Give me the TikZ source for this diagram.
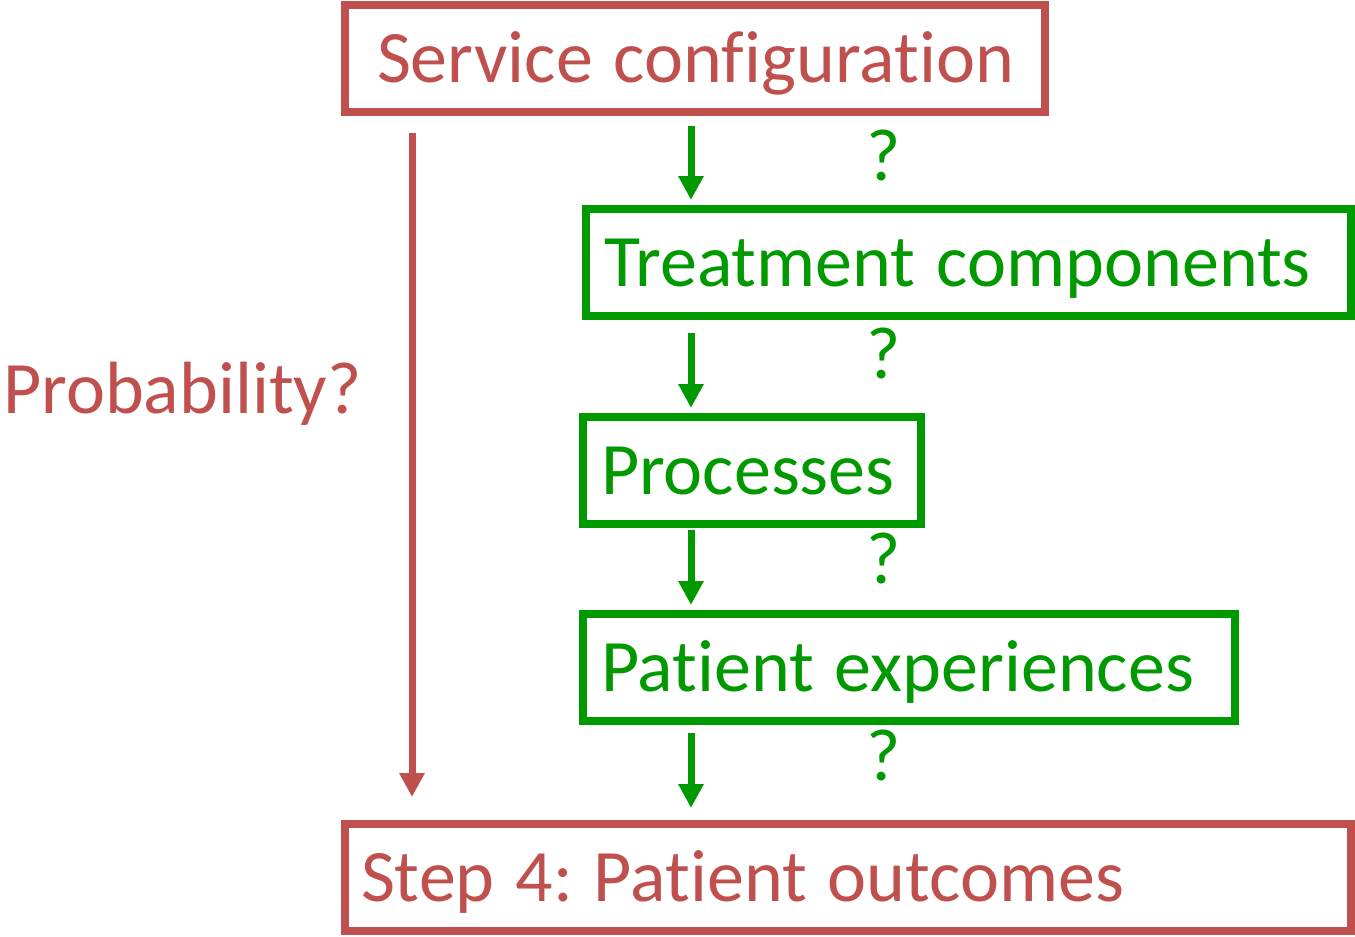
\documentclass[tikz,border=0pt]{standalone}
\usepackage{fontspec}
\setmainfont[Ligatures=NoCommon]{Carlito}
\usepackage{xcolor}
\usepackage{tikz}
\usetikzlibrary{arrows.meta}
\frenchspacing

\definecolor{boxred}{HTML}{C0504D}
\definecolor{boxgreen}{HTML}{009900}

\begin{document}
\begin{tikzpicture}[x=1pt,y=1pt,
		every node/.style={font=\fontsize{74}{80}\selectfont, execute at begin node={\spaceskip=21pt\relax}},
		stage/.style={draw, line width=8pt, anchor=west, minimum height=107pt, text height=47pt, text depth=0pt, align=left},
		redbox/.style={stage, boxred, text=boxred},
		greenbox/.style={stage, boxgreen, text=boxgreen},
		greenarr/.style={boxgreen, line width=7pt, -{Triangle[length=24pt,width=24pt]}},
		redarr/.style={boxred, line width=7pt, -{Triangle[length=24pt,width=24pt]}},
		qmark/.style={boxgreen, inner sep=0pt}]
		\useasboundingbox (0,0) rectangle (1355,-937);
		\node (svc) [redbox, inner xsep=32pt, text width=636pt] at (341,-58.5) {\mbox{Service configuration}};
		\node (treat) [greenbox, inner xsep=18pt, text width=729pt] at (582,-262.5) {\mbox{Treatment components}};
		\node (proc) [greenbox, inner xsep=18pt, text width=302pt] at (579,-470.5) {\mbox{Processes}};
		\node (pexp) [greenbox, inner xsep=18pt, text width=616pt] at (579,-667.5) {\mbox{Patient experiences}};
		\node (outc) [redbox, inner xsep=16pt, text width=974pt] at (341,-877.5) {\mbox{Step 4: Patient outcomes}};
		\node (prob) [anchor=base west, inner sep=0pt, text=boxred] at (3,-413) {Probability?};
		\node (q1) [qmark] at (884,-155) {?};
		\node (q2) [qmark] at (884,-353) {?};
		\node (q3) [qmark] at (884,-558) {?};
		\node (q4) [qmark] at (884,-755) {?};
		\coordinate (gx) at (691,0);
		\coordinate (rx) at (412,0);
		\draw [greenarr] ([yshift=-10pt]svc.south -| gx) -- ([yshift=5pt]treat.north -| gx);
		\draw [greenarr] ([yshift=-13pt]treat.south -| gx) -- ([yshift=5pt]proc.north -| gx);
		\draw [greenarr] ([yshift=-2pt]proc.south -| gx) -- ([yshift=5pt]pexp.north -| gx);
		\draw [greenarr] ([yshift=-8pt]pexp.south -| gx) -- ([yshift=12pt]outc.north -| gx);
		\draw [redarr] ([yshift=-17pt]svc.south -| rx) -- ([yshift=23pt]outc.north -| rx);
	\end{tikzpicture}
\end{document}
